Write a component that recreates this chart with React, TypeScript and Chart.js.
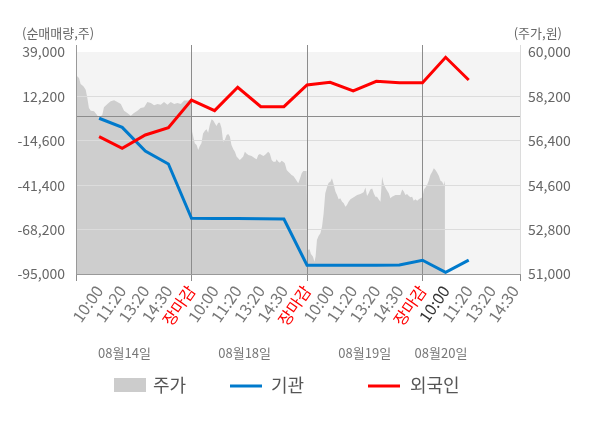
import { useEffect, useRef } from 'react';
import { Chart, registerables } from 'chart.js';

Chart.register(...registerables);

const FONT = "'Noto Sans CJK KR', 'Noto Sans', sans-serif";

// x 축: 하루 5칸 (10:00 ~ 장마감), 4일치
const timeLabels = [
  '10:00', '11:20', '13:20', '14:30', '장마감',
  '10:00', '11:20', '13:20', '14:30', '장마감',
  '10:00', '11:20', '13:20', '14:30', '장마감',
  '10:00', '11:20', '13:20', '14:30',
];
const dateLabels = ['08월14일', '08월18일', '08월19일', '08월20일'];
const datePositions = [2.1, 7.3, 12.5, 15.8];

const leftTicks = [-95000, -68200, -41400, -14600, 0, 12200, 39000];
const rightTicks = [51000, 52800, 54600, 56400, 58200, 60000];

// 순매매량 (주)
const foreignNet = [
  -12100, -19100, -11100, -6700, 10000,
  3600, 17700, 6000, 6000, 19100,
  20700, 15500, 21300, 20500, 20500,
  35800, 22100,
];
const institutionNet = [
  -1000, -6500, -20800, -28600, -61400,
  -61500, -61500, -61600, -61800, -89700,
  -89700, -89700, -89700, -89500, -86700,
  -94000, -86600,
];

// 주가 (분 단위, x = 슬롯 위치)
const priceX = [
  0.00, 0.13, 0.20, 0.32, 0.42, 0.49, 0.56, 0.64, 0.78, 0.90, 1.00, 1.14, 1.21, 1.36, 1.50, 1.65, 1.79, 1.94,
  2.08, 2.22, 2.37, 2.51, 2.66, 2.80, 2.95, 3.09, 3.24, 3.38, 3.53, 3.67, 3.81, 3.96, 4.10, 4.25, 4.39, 4.54,
  4.68, 4.83, 4.97,
  5.00, 5.03, 5.14, 5.22, 5.29, 5.36, 5.43, 5.50, 5.58, 5.65, 5.72, 5.79, 5.87, 5.94, 6.01, 6.08, 6.16, 6.23,
  6.30, 6.37, 6.44, 6.52, 6.59, 6.66, 6.73, 6.81, 6.88, 6.95, 7.02, 7.09, 7.17, 7.24, 7.31, 7.38, 7.46, 7.60,
  7.74, 7.82, 7.89, 7.96, 8.11, 8.18, 8.32, 8.39, 8.47, 8.54, 8.64, 8.68, 8.76, 8.83, 8.90, 8.97, 9.04, 9.12,
  9.19, 9.26, 9.33, 9.41, 9.48, 9.55, 9.62, 9.70, 9.77, 9.84, 9.98,
  10.03, 10.11, 10.17, 10.26, 10.32, 10.37, 10.43, 10.50, 10.58, 10.65, 10.72, 10.79, 10.87, 10.94, 11.01,
  11.08, 11.15, 11.23, 11.30, 11.37, 11.44, 11.52, 11.59, 11.66, 11.73, 11.80, 11.88, 11.95, 12.02, 12.17,
  12.31, 12.45, 12.53, 12.60, 12.67, 12.74, 12.82, 12.89, 12.96, 13.03, 13.10, 13.18, 13.25, 13.32, 13.39,
  13.47, 13.54, 13.61, 13.68, 13.83, 14.04, 14.12, 14.19, 14.26, 14.33, 14.41, 14.48, 14.55, 14.62, 14.69,
  14.77, 14.84, 14.91, 15.00,
  15.06, 15.13, 15.20, 15.27, 15.34, 15.42, 15.49, 15.56, 15.63, 15.71, 15.78, 15.85, 15.92, 15.97,
];
const priceY = [
  59060, 58950, 58700, 58610, 58470, 58140, 57730, 57620, 57600, 57460, 57320, 57460, 57760, 57890, 58000, 58040, 57970, 57890,
  57620, 57530, 57420, 57530, 57620, 57730, 57760, 57970, 57930, 57840, 57890, 57860, 57970, 57860, 57970, 57890, 57930, 57890,
  58030, 58030, 58080,
  57240, 56770, 56300, 56230, 56030, 56190, 56300, 56700, 56810, 56870, 56730, 57040, 57270, 57220, 57110, 57000, 57130, 57130,
  56910, 56360, 56430, 56640, 56680, 56570, 56230, 56060, 55960, 55760, 55690, 55620, 55690, 55760, 55960, 55890, 55820, 55780,
  55690, 55650, 55820, 55860, 55780, 55820, 55960, 55890, 55620, 55550, 55550, 55650, 55550, 55510, 55590, 55550, 55490, 55220,
  55150, 55080, 55010, 54970, 54880, 54780, 54680, 54880, 55080, 55180, 55180,
  51970, 52000, 51810, 51700, 51500, 51700, 52380, 52540, 52650, 52920, 53460, 54270, 54540, 54700, 54740,
  54880, 54650, 54340, 54200, 54030, 54070, 53930, 53870, 53730, 53800, 53930, 54030, 54070, 54110, 54200,
  54240, 54310, 54510, 54160, 54270, 54430, 54470, 54270, 54130, 54130, 54030, 53930, 54940, 54650, 54510,
  54380, 54270, 54070, 54130, 54200, 54200, 54430, 54340, 54200, 54240, 54160, 54110, 54130, 53970, 54030,
  53970, 54030, 54070, 54110,
  54430, 54510, 54610, 54780, 55010, 55150, 55290, 55220, 55110, 54970, 54780, 54740, 54610, 54780,
];

const X_MAX = 19.22;
const DARK_LINE = '#8c8c8c';

const fmt = (v: number) => v.toLocaleString('en-US');

const decorPlugin = {
  id: 'decor',
  beforeDraw(chart: any) {
    const { ctx, chartArea, scales } = chart;
    const top = scales.y.getPixelForValue(leftTicks[leftTicks.length - 1]);
    ctx.save();
    ctx.fillStyle = '#f4f4f4';
    ctx.fillRect(chartArea.left, top, chartArea.right - chartArea.left, chartArea.bottom - top);
    ctx.restore();
  },
  afterDatasetDraw(chart: any, args: any) {
    // grid lines sit above the price area but under the two lines
    if (args.index !== 2) return;
    chart.scales.y.drawGrid(chart.chartArea);
    chart.scales.x.drawGrid(chart.chartArea);
    chart.scales.y.drawBorder();
    chart.scales.y1.drawBorder();
    chart.scales.x.drawBorder();
  },
  afterDraw(chart: any) {
    const { ctx, scales } = chart;
    ctx.save();
    ctx.textBaseline = 'middle';

    ctx.font = `13px ${FONT}`;
    ctx.fillStyle = '#666';
    ctx.textAlign = 'left';
    ctx.fillText('(순매매량,주)', 22, 33);
    ctx.textAlign = 'right';
    ctx.fillText('(주가,원)', 562, 33);

    ctx.fillStyle = '#777';
    ctx.textAlign = 'center';
    dateLabels.forEach((d, i) => {
      ctx.fillText(d, scales.x.getPixelForValue(datePositions[i]), 353);
    });

    // legend
    const ly = 385;
    ctx.font = `18px ${FONT}`;
    ctx.textAlign = 'left';
    ctx.fillStyle = '#cccccc';
    ctx.fillRect(114, ly - 7, 32, 14);
    ctx.fillStyle = '#555';
    ctx.fillText('주가', 153, ly);

    ctx.lineWidth = 3;
    ctx.strokeStyle = '#007acc';
    ctx.beginPath();
    ctx.moveTo(230, ly + 1);
    ctx.lineTo(262, ly + 1);
    ctx.stroke();
    ctx.fillText('기관', 271, ly);

    ctx.strokeStyle = '#ff0000';
    ctx.beginPath();
    ctx.moveTo(368, ly + 1);
    ctx.lineTo(400, ly + 1);
    ctx.stroke();
    ctx.fillText('외국인', 410, ly);
    ctx.restore();
  },
};

export default function App() {
  const chartRef = useRef<HTMLCanvasElement>(null);
  const chartInstance = useRef<Chart | null>(null);

  useEffect(() => {
    document.body.style.margin = '0';
    if (!chartRef.current) return;
    if (chartInstance.current) chartInstance.current.destroy();

    const ctx = chartRef.current.getContext('2d');
    if (!ctx) return;

    const xTicks = [0, ...timeLabels.map((_, i) => i + 1), X_MAX];

    chartInstance.current = new Chart(ctx, {
      type: 'line',
      data: {
        datasets: [
          {
            label: '외국인',
            data: foreignNet.map((v, i) => ({ x: i + 1, y: v })),
            borderColor: '#ff0000',
            borderWidth: 3,
            pointRadius: 0,
            fill: false,
            yAxisID: 'y',
          },
          {
            label: '기관',
            data: institutionNet.map((v, i) => ({ x: i + 1, y: v })),
            borderColor: '#007acc',
            borderWidth: 3,
            pointRadius: 0,
            fill: false,
            yAxisID: 'y',
          },
          {
            label: '주가',
            data: priceX.map((x, i) => ({ x, y: priceY[i] })),
            borderWidth: 0,
            borderColor: 'rgba(0,0,0,0)',
            backgroundColor: '#cecece',
            pointRadius: 0,
            fill: 'start',
            yAxisID: 'y1',
          },
        ],
      },
      options: {
        animation: false,
        responsive: true,
        maintainAspectRatio: false,
        layout: { padding: { top: 45, left: 0, right: 0, bottom: 0 } },
        plugins: {
          legend: { display: false },
          tooltip: { enabled: false },
        },
        scales: {
          x: {
            type: 'linear',
            min: 0,
            max: X_MAX,
            afterBuildTicks: (scale: any) => {
              scale.ticks = xTicks.map((v) => ({ value: v }));
            },
            afterFit: (scale: any) => {
              scale.height = 154;
            },
            grid: {
              color: (c: any) => ([5, 10, 15].includes(c.tick?.value) ? DARK_LINE : 'rgba(0,0,0,0)'),
              tickColor: (c: any) =>
                [0, 5, 10, 15, X_MAX].includes(c.tick?.value) ? DARK_LINE : 'rgba(0,0,0,0)',
              tickLength: 7,
              drawTicks: true,
            },
            border: { color: '#999' },
            ticks: {
              autoSkip: false,
              minRotation: 55,
              maxRotation: 55,
              padding: 1,
              font: { family: FONT, size: 16 },
              color: (c: any) => {
                const label = timeLabels[c.tick.value - 1];
                if (label === '장마감') return '#ff0000';
                if (c.tick.value === 16) return '#333';
                return '#777';
              },
              callback: (value: any) =>
                Number.isInteger(value) && value >= 1 && value <= timeLabels.length ? timeLabels[value - 1] : '',
            },
          },
          y: {
            position: 'left',
            min: -95000,
            max: 43224,
            afterBuildTicks: (scale: any) => {
              scale.ticks = leftTicks.map((v) => ({ value: v }));
            },
            afterFit: (scale: any) => {
              scale.width = 76;
            },
            grid: {
              drawTicks: false,
              color: (c: any) => {
                const v = c.tick?.value;
                if (v === 0) return DARK_LINE;
                if (v === 39000 || v === -95000) return 'rgba(0,0,0,0)';
                return '#dcdcdc';
              },
            },
            border: { color: '#999' },
            ticks: {
              padding: 11,
              font: { family: FONT, size: 14 },
              color: '#666',
              callback: (value: any) => (value === 0 ? '' : fmt(value)),
            },
          },
          y1: {
            position: 'right',
            min: 51000,
            max: 60284,
            afterBuildTicks: (scale: any) => {
              scale.ticks = rightTicks.map((v) => ({ value: v }));
            },
            afterFit: (scale: any) => {
              scale.width = 80;
            },
            grid: { display: false, drawTicks: false },
            border: { color: '#dcdcdc' },
            ticks: {
              padding: 8,
              font: { family: FONT, size: 14 },
              color: '#666',
              callback: (value: any) => fmt(value),
            },
          },
        },
      },
      plugins: [decorPlugin],
    });

    return () => {
      if (chartInstance.current) {
        chartInstance.current.destroy();
        chartInstance.current = null;
      }
    };
  }, []);

  return (
    <div style={{ width: 600, height: 428, position: 'relative' }}>
      <canvas ref={chartRef} />
    </div>
  );
}
